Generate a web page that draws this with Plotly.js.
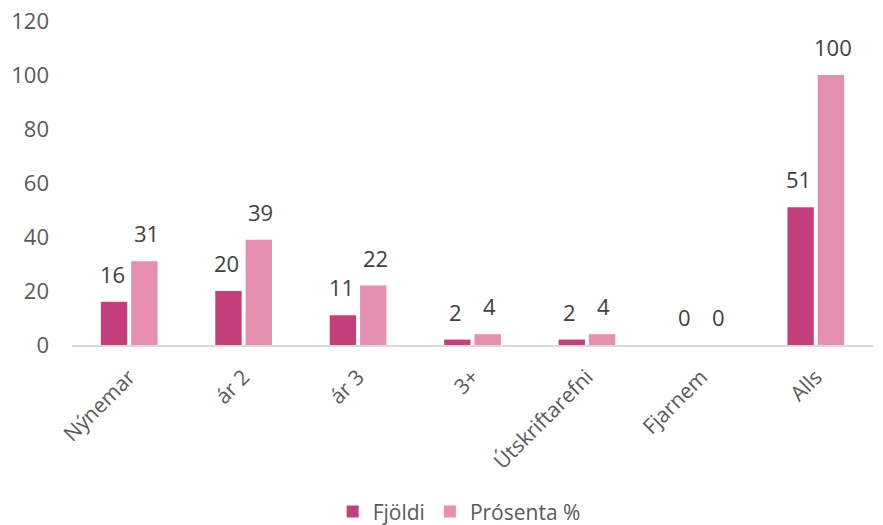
<!DOCTYPE html>
<html>
<head>
<meta charset="utf-8">
<script src="https://cdn.plot.ly/plotly-3.0.1.min.js"></script>
<style>html,body{margin:0;padding:0;background:#fff;}#chart{width:883px;height:525px;}</style>
</head>
<body>
<div id="chart"></div>
<script>
var categories = ["Nýnemar", "ár 2", "ár 3", "3+", "Útskriftarefni", "Fjarnem", "Alls"];
var fjoldi = [16, 20, 11, 2, 2, 0, 51];
var prosenta = [31, 39, 22, 4, 4, 0, 100];
var seriesNames = ["Fjöldi", "Prósenta %"];

var font = "'Open Sans', 'Noto Sans', sans-serif";
var labelColor = "#404040";
var tickColor = "#595959";

var traces = [
  {type: "bar", name: seriesNames[0], x: categories, y: fjoldi, marker: {color: "#C43E7C"}},
  {type: "bar", name: seriesNames[1], x: categories, y: prosenta, marker: {color: "#E68FB0"}}
];

var annotations = [];
function addLabels(vals, shift) {
  vals.forEach(function (v, i) {
    annotations.push({
      x: categories[i], y: v, xref: "x", yref: "y", text: String(v),
      showarrow: false, xanchor: "center", yanchor: "bottom", xshift: shift, yshift: 11,
      font: {family: font, size: 22, color: labelColor}
    });
  });
}
addLabels(fjoldi, -17);
addLabels(prosenta, 17);

var layout = {
  width: 883, height: 525,
  margin: {l: 72, r: 10, t: 21, b: 180},
  paper_bgcolor: "#fff", plot_bgcolor: "#fff",
  font: {family: font, color: tickColor, size: 22},
  barmode: "group", bargap: 0.47, bargroupgap: 0.13,
  xaxis: {tickangle: -45, showgrid: false, showline: true, linecolor: "#d9d9d9", linewidth: 1.5,
          ticks: "", ticklabelstandoff: 10, tickfont: {family: font, size: 21, color: tickColor}},
  yaxis: {range: [0, 120], dtick: 20, showgrid: false, zeroline: false, showline: false,
          ticks: "", ticklabelstandoff: 22, tickfont: {family: font, size: 22, color: tickColor}},
  showlegend: true,
  legend: {orientation: "h", x: 0.52, xanchor: "center", xref: "container", y: 0.025, yref: "container", yanchor: "middle",
           font: {family: font, size: 21, color: tickColor}, traceorder: "normal"},
  annotations: annotations
};

Plotly.newPlot("chart", traces, layout, {displayModeBar: false, staticPlot: true});
</script>
</body>
</html>
